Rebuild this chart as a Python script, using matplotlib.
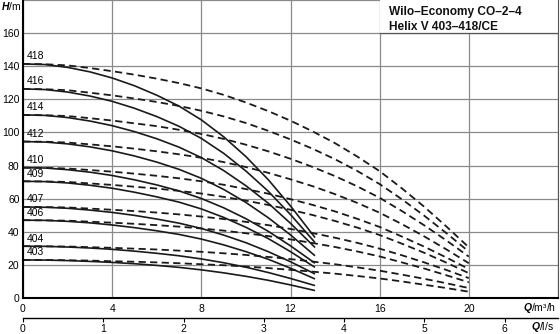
import matplotlib
matplotlib.use('Agg')
import matplotlib.pyplot as plt
from matplotlib.patches import Rectangle

plt.rcParams['font.family'] = ['Liberation Sans', 'DejaVu Sans']
plt.rcParams['mathtext.fontset'] = 'custom'
plt.rcParams['mathtext.it'] = 'Liberation Sans:italic:bold'
plt.rcParams['mathtext.rm'] = 'Liberation Sans'

# pump types
pumps = ['418', '416', '414', '412', '410', '409', '407', '406', '404', '403']

# solid curves, Q in m3/h
q_solid = [0, 1, 2, 3, 4, 5, 6, 7, 8, 9, 10, 11, 12, 13.1]
h418 = [141.4, 141.0, 139.3, 136.6, 132.9, 128.2, 122.5, 115.9, 107.6, 97.4, 85.4, 71.5, 55.6, 36.5]
h416 = [126.3, 125.9, 124.4, 122.0, 118.8, 114.6, 109.6, 103.7, 96.4, 87.4, 76.7, 64.5, 50.4, 33.5]
h414 = [110.6, 110.3, 109.0, 106.9, 104.1, 100.5, 96.2, 91.1, 84.8, 77.0, 67.8, 57.3, 45.1, 30.5]
h412 = [94.5, 94.2, 93.1, 91.3, 88.9, 85.8, 82.1, 77.7, 72.3, 65.6, 57.7, 48.5, 38.1, 25.5]
h410 = [78.7, 78.5, 77.5, 76.0, 74.0, 71.4, 68.3, 64.7, 60.1, 54.5, 47.9, 40.3, 31.5, 21.0]
h409 = [70.5, 70.3, 69.5, 68.1, 66.3, 63.9, 61.1, 57.9, 53.8, 48.7, 42.7, 35.9, 28.0, 18.5]
h407 = [55.0, 54.8, 54.2, 53.1, 51.7, 49.9, 47.7, 45.2, 42.0, 38.0, 33.4, 28.0, 21.9, 14.5]
h406 = [47.0, 46.9, 46.3, 45.4, 44.1, 42.5, 40.6, 38.4, 35.6, 32.1, 28.0, 23.4, 18.0, 11.5]
h404 = [31.3, 31.2, 30.8, 30.2, 29.4, 28.3, 27.0, 25.5, 23.6, 21.3, 18.6, 15.4, 11.8, 7.5]
h403 = [23.0, 22.9, 22.6, 22.1, 21.5, 20.7, 19.7, 18.5, 17.0, 15.2, 13.1, 10.7, 7.9, 4.5]
solid = [h418, h416, h414, h412, h410, h409, h407, h406, h404, h403]

# dashed curves
q_dash = [0, 1, 2, 3, 4, 5, 6, 7, 8, 9, 10, 11, 12, 13, 14, 15, 16, 17, 18, 19, 20]
d418 = [141.4, 141.2, 140.5, 138.9, 137.0, 134.9, 132.5, 129.8, 126.6, 122.7, 118.1,
        112.9, 107.1, 100.6, 93.5, 85.4, 76.6, 66.2, 55.1, 43.1, 30.6]
d416 = [126.3, 126.1, 125.5, 124.0, 122.4, 120.5, 118.4, 116.0, 113.1, 109.7, 105.7,
        101.0, 95.8, 90.1, 83.8, 76.7, 68.8, 59.6, 49.7, 39.1, 28.0]
d414 = [110.6, 110.4, 109.9, 108.6, 107.2, 105.5, 103.8, 101.6, 99.1, 96.1, 92.6,
        88.6, 84.1, 79.1, 73.6, 67.4, 60.5, 52.5, 43.9, 34.7, 25.0]
d412 = [94.5, 94.4, 93.9, 92.8, 91.6, 90.2, 88.6, 86.8, 84.7, 82.1, 79.1,
        75.6, 71.7, 67.5, 62.7, 57.4, 51.5, 44.6, 37.2, 29.3, 21.0]
d410 = [78.7, 78.6, 78.2, 77.3, 76.3, 75.1, 73.8, 72.3, 70.5, 68.4, 65.8,
        63.0, 59.7, 56.2, 52.3, 47.8, 42.9, 37.1, 31.0, 24.4, 17.5]
d409 = [70.5, 70.4, 70.1, 69.2, 68.3, 67.2, 66.1, 64.7, 63.1, 61.1, 58.8,
        56.2, 53.3, 50.1, 46.5, 42.5, 38.0, 32.8, 27.3, 21.3, 15.0]
d407 = [55.0, 54.9, 54.7, 54.0, 53.3, 52.5, 51.6, 50.5, 49.2, 47.7, 46.0,
        44.0, 41.7, 39.2, 36.4, 33.3, 29.8, 25.8, 21.5, 16.9, 12.0]
d406 = [47.0, 46.9, 46.7, 46.1, 45.5, 44.8, 44.0, 43.1, 42.0, 40.7, 39.1,
        37.4, 35.4, 33.2, 30.8, 28.1, 25.1, 21.5, 17.8, 13.7, 9.5]
d404 = [31.3, 31.2, 31.1, 30.7, 30.3, 29.8, 29.3, 28.6, 27.9, 27.0, 26.0,
        24.8, 23.5, 22.0, 20.4, 18.5, 16.5, 14.1, 11.6, 8.9, 6.0]
d403 = [23.0, 23.0, 22.8, 22.6, 22.2, 21.9, 21.5, 21.0, 20.4, 19.8, 19.0,
        18.1, 17.0, 15.9, 14.7, 13.3, 11.8, 10.0, 8.0, 6.0, 3.8]
dashed = [d418, d416, d414, d412, d410, d409, d407, d406, d404, d403]

x_ticks = [0, 4, 8, 12, 16, 20]
y_ticks = [0, 20, 40, 60, 80, 100, 120, 140, 160]
ls_ticks = [0, 1, 2, 3, 4, 5, 6]

fig = plt.figure(figsize=(5.6, 3.34), dpi=100)
ax = fig.add_axes([23/560, 36/334, 535/560, 298/334])
ax.set_xlim(0, 24)
ax.set_ylim(0, 180)
ax.set_axisbelow(True)

ax.set_xticks(x_ticks + [24])
ax.set_xticklabels([str(t) for t in x_ticks] + [''])
ax.set_yticks(y_ticks + [180])
ax.set_yticklabels([str(t) for t in y_ticks] + [''])
ax.tick_params(length=0, labelsize=7.5, colors='black')
ax.tick_params(axis='x', pad=4)
ax.tick_params(axis='y', pad=2.5)
ax.grid(True, color='#8a8a8a', lw=0.9)

for s in ['left', 'bottom']:
    ax.spines[s].set_linewidth(1.5)
    ax.spines[s].set_color('black')
ax.spines['right'].set_color('#555555')
ax.spines['right'].set_linewidth(0.8)
ax.spines['top'].set_visible(False)

for name, hs, hd in zip(pumps, solid, dashed):
    ax.plot(q_solid, hs, color='#1a1a1a', lw=1.2, solid_capstyle='butt')
    ax.plot(q_dash, hd, color='#1a1a1a', lw=1.3, dashes=(4, 2.4))
    ax.text(0.15, hs[0] + 1.5, name, fontsize=7.5, ha='left', va='bottom')

# title box
ax.add_patch(Rectangle((16, 160), 8, 20, facecolor='white', edgecolor='none', zorder=1.5))
ax.plot([16, 24], [160, 160], color='#555555', lw=0.9, zorder=1.6)
ax.text(16.4, 176.6, 'Wilo–Economy CO–2–4\nHelix V 403–418/CE', fontsize=8.6,
        fontweight='bold', ha='left', va='top', linespacing=1.35, color='#111111', zorder=2)

# l/s axis
sec = ax.secondary_xaxis(-20/298, functions=(lambda q: q / 3.6, lambda l: l * 3.6))
sec.set_xticks(ls_ticks)
sec.tick_params(direction='out', length=3, width=0.8, pad=1.5, labelsize=7.5)
sec.spines['bottom'].set_linewidth(1.0)

fig.text(1/560, 1 - 6/334, r'$H$/m', fontsize=7.5, ha='left', va='center')
fig.text(556/560, 1 - 308/334, r'$Q$/m³/h', fontsize=7.5, ha='right', va='center')
fig.text(554/560, 1 - 327/334, r'$Q$/l/s', fontsize=7.5, ha='right', va='center')

fig.savefig('out.png', dpi=100)
